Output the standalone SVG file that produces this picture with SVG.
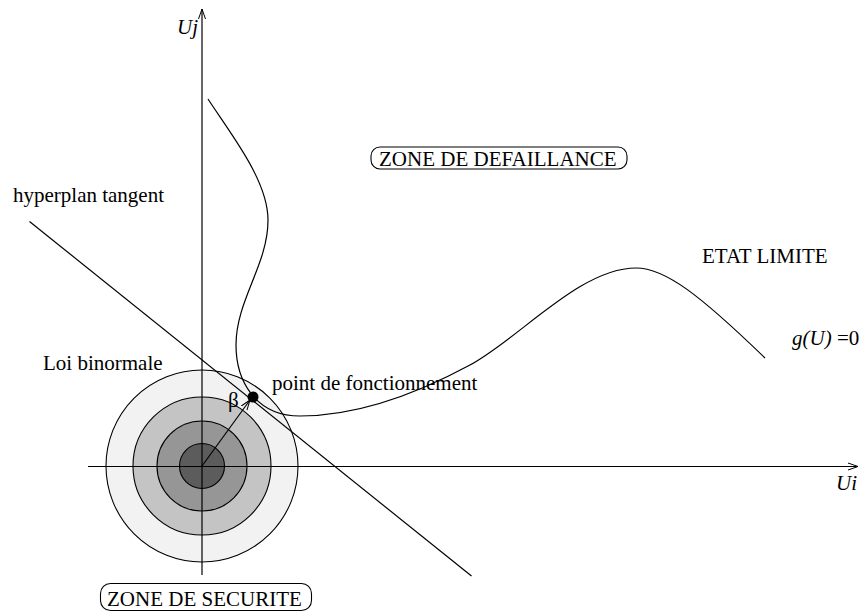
<svg xmlns="http://www.w3.org/2000/svg" width="859" height="614" viewBox="0 0 859 614">
<defs>
<style>
.t{font-family:"Liberation Serif","Times New Roman",serif;font-size:21px;fill:#000}
.it{font-style:italic}
.ln{fill:none;stroke:#000;stroke-width:1.2}
.ring{stroke:#000;stroke-width:1.1}
</style>
<marker id="ah" markerWidth="12" markerHeight="10" refX="10" refY="5" orient="auto" markerUnits="userSpaceOnUse">
<path d="M0,1.5 L10,5 L0,8.5" fill="none" stroke="#000" stroke-width="1"/>
</marker>
</defs>
<rect width="859" height="614" fill="#fff"/>
<g id="loi-binormale">
<circle class="ring" cx="202" cy="466" r="96" fill="#f2f2f2"/>
<circle class="ring" cx="202" cy="466" r="69" fill="#c4c4c4"/>
<circle class="ring" cx="202" cy="466" r="45" fill="#969696"/>
<circle class="ring" cx="202" cy="466" r="22.5" fill="#5c5c5c"/>
<text class="t" x="43" y="370">Loi binormale</text>
</g>
<g id="connectors">
<line class="ln" x1="202" y1="575" x2="202" y2="9" stroke-width="1" marker-end="url(#ah)"/>
<line class="ln" x1="88" y1="466.5" x2="858" y2="466.5" stroke-width="1" marker-end="url(#ah)"/>
<line class="ln" x1="29.5" y1="221.5" x2="471.5" y2="576"/>
<path id="etat-limite-curve" class="ln" d="M208,99 C230,133 268,180 268,220 C268,265 236,300 236,345 C236,380 255,416 300,416 C360,416 420,392 470,365 C520,338 580,268 636,268 C665,268 700,295 765,358"/>
<line class="ln" x1="202" y1="466" x2="250" y2="400" stroke-width="1" marker-end="url(#ah)"/>
</g>
<g id="point-fonctionnement">
<circle cx="253" cy="397" r="5.5" fill="#000"/>
<text class="t" x="272" y="390">point de fonctionnement</text>
<text class="t" x="228" y="407">β</text>
</g>
<g id="axis-labels">
<text class="t it" x="177" y="34">Uj</text>
<text class="t it" x="836" y="490">Ui</text>
</g>
<g id="zone-defaillance">
<rect x="371" y="147" width="256" height="22" rx="9" fill="none" stroke="#000" stroke-width="1.1"/>
<text class="t" x="379" y="166">ZONE DE DEFAILLANCE</text>
</g>
<g id="zone-securite">
<rect x="100.5" y="583.5" width="211" height="27" rx="10" fill="none" stroke="#000" stroke-width="1.1"/>
<text class="t" x="107" y="606">ZONE DE SECURITE</text>
</g>
<g id="hyperplan">
<text class="t" x="13" y="202">hyperplan tangent</text>
</g>
<g id="etat-limite">
<text class="t" x="702" y="263">ETAT LIMITE</text>
<text class="t" x="792" y="345"><tspan class="it">g(U)</tspan> =0</text>
</g>
</svg>
